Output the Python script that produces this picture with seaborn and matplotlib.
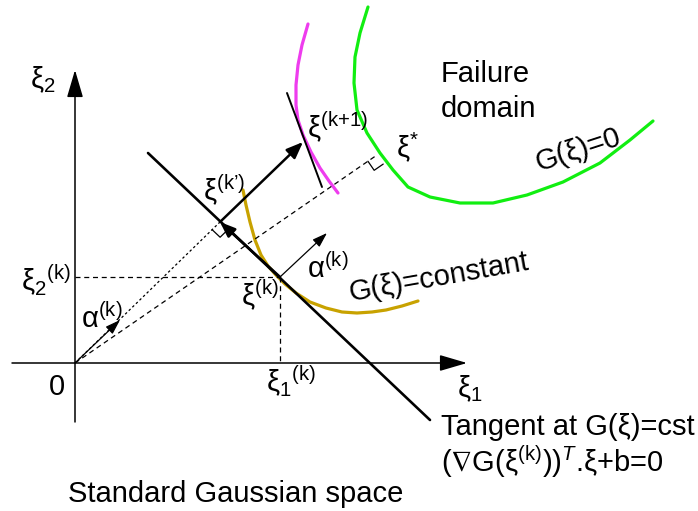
import matplotlib
matplotlib.use("Agg")
import matplotlib.pyplot as plt
import seaborn as sns

sns.set_theme(style="white")
plt.rcParams['font.family'] = ['Liberation Sans', 'DejaVu Sans']
plt.rcParams['mathtext.fontset'] = 'custom'
plt.rcParams['mathtext.rm'] = 'Liberation Sans'
plt.rcParams['mathtext.it'] = 'Liberation Sans:italic'
plt.rcParams['mathtext.bf'] = 'Liberation Sans:bold'
plt.rcParams['mathtext.fallback'] = 'stixsans'

# Points of the sketch in pixel units (y goes down)
origin = (75, 363)
xi_k = (280, 277)        # current point
xi_kp = (220, 222)       # projection of the origin on the tangent
xi_k1 = (303, 142)       # next point
xi_star = (377, 155)     # design point

axis_1 = [(12, 363), (467, 363)]
axis_2 = [(75, 422), (75, 70)]
tangent_k = [(148, 153), (430, 420)]
tangent_k1 = [(287, 93), (322, 187)]
alpha_origin_tip = (120, 320)
alpha_k_tip = (327, 233)

# G(xi)=constant (olive)
cst_x = [243, 246, 250, 255, 261, 268, 276, 285, 296, 310, 326, 342, 357, 372, 386, 402, 418]
cst_y = [190, 205, 222, 240, 255, 266, 275, 284, 293, 302, 308, 312, 313, 312, 310, 306, 301]
# level curve through xi^(k+1) (magenta)
next_x = [308, 302, 298, 296, 296, 298, 303, 311, 320, 329, 338]
next_y = [24, 45, 65, 85, 105, 120, 135, 152, 168, 181, 193]
# G(xi)=0 (green)
fail_x = [368, 360, 355, 354, 357, 367, 380, 393, 408, 430, 460, 493, 527, 563, 600, 630, 653]
fail_y = [7, 33, 57, 83, 110, 133, 153, 170, 187, 197, 203, 203, 195, 182, 163, 140, 121]

FS = 21
K = r'$^{\mathrm{(k)}}$'

fig = plt.figure(figsize=(6.98, 5.11), dpi=100)
ax = fig.add_axes([0, 0, 1, 1])


def arrow(start, end, lw, hl, hw):
    ax.annotate('', xy=end, xytext=start,
                arrowprops=dict(arrowstyle=f'-|>,head_length={hl},head_width={hw}',
                                lw=lw, color='black', shrinkA=0, shrinkB=0,
                                mutation_scale=10))


def seg(p, q, **kw):
    ax.plot([p[0], q[0]], [p[1], q[1]], color='black', **kw)


def right_angle(p, toward, along, s=11):
    # small square mark at p between the two directions
    ux, uy = toward[0] - p[0], toward[1] - p[1]
    n = (ux ** 2 + uy ** 2) ** 0.5
    ux, uy = ux / n, uy / n
    tx, ty = along
    a = (p[0] + s * ux, p[1] + s * uy)
    c = (a[0] + s * tx, a[1] + s * ty)
    b = (p[0] + s * tx, p[1] + s * ty)
    ax.plot([a[0], c[0], b[0]], [a[1], c[1], b[1]], color='black', lw=0.9)


# curves
sns.lineplot(x=cst_x, y=cst_y, sort=False, estimator=None, color='#c8a200', lw=2.3, ax=ax)
sns.lineplot(x=next_x, y=next_y, sort=False, estimator=None, color='#ee3cee', lw=2.3, ax=ax)
sns.lineplot(x=fail_x, y=fail_y, sort=False, estimator=None, color='#11ee11', lw=2.3, ax=ax)

# axes of the standard space
arrow(axis_1[0], axis_1[1], 1.1, 1.7, 0.5)
arrow(axis_2[0], axis_2[1], 1.1, 1.7, 0.5)

# guide lines
dash = (0, (4, 3))
seg((origin[0], xi_k[1]), xi_k, lw=0.9, linestyle=dash)
seg(xi_k, (xi_k[0], origin[1]), lw=0.9, linestyle=dash)
seg(origin, xi_star, lw=0.9, linestyle=dash)
seg(origin, xi_kp, lw=0.9, linestyle=(0, (2, 2)))

# tangents
seg(tangent_k[0], tangent_k[1], lw=1.9)
seg(tangent_k1[0], tangent_k1[1], lw=1.4)

# step arrows
arrow(xi_k, xi_kp, 1.9, 0.9, 0.35)
arrow(xi_kp, xi_k1, 1.8, 1.0, 0.4)
arrow(origin, alpha_origin_tip, 0.9, 0.9, 0.3)
arrow(xi_k, alpha_k_tip, 0.9, 0.9, 0.3)

# right angle marks
right_angle(xi_kp, origin, (0.727, 0.688))
right_angle(xi_star, origin, (0.566, 0.825))

# labels
txt = dict(fontsize=FS, color='black', va='baseline')
ax.text(30, 88, r'ξ$_{\mathrm{2}}$', **txt)
ax.text(457, 397, r'ξ$_{\mathrm{1}}$', **txt)
ax.text(57, 395, '0', ha='center', **txt)
ax.text(21, 291, r'ξ$_{\mathrm{2}}$' + K, **txt)
ax.text(266, 392, r'ξ$_{\mathrm{1}}$' + K, **txt)
ax.text(81, 328, 'α' + K, **txt)
ax.text(307, 278, 'α' + K, **txt)
ax.text(241, 306, 'ξ' + K, **txt)
ax.text(203, 201, r"ξ$^{\mathrm{(k’)}}$", **txt)
ax.text(307, 138, r'ξ$^{\mathrm{(k{+}1)}}$', **txt)
ax.text(396, 157, r'ξ$^{*}$', **txt)
ax.text(485, 82, 'Failure', ha='center', **txt)
ax.text(488, 117, 'domain', ha='center', **txt)
ax.text(578, 150, 'G(ξ)=0', fontsize=FS, color='black', ha='center', va='center',
        rotation=18, rotation_mode='anchor')
ax.text(439, 277, 'G(ξ)=constant', fontsize=FS, color='black', ha='center', va='center',
        rotation=10, rotation_mode='anchor')
ax.text(441, 435, 'Tangent at G(ξ)=cst', **txt)
ax.text(441, 472, r'($\nabla$G(ξ' + K + r'))$^{T}$.ξ+b=0', **txt)
ax.text(68, 502, 'Standard Gaussian space', **txt)

ax.set_xlim(0, 698)
ax.set_ylim(511, 0)
ax.axis('off')

fig.savefig('out.png', dpi=100)
